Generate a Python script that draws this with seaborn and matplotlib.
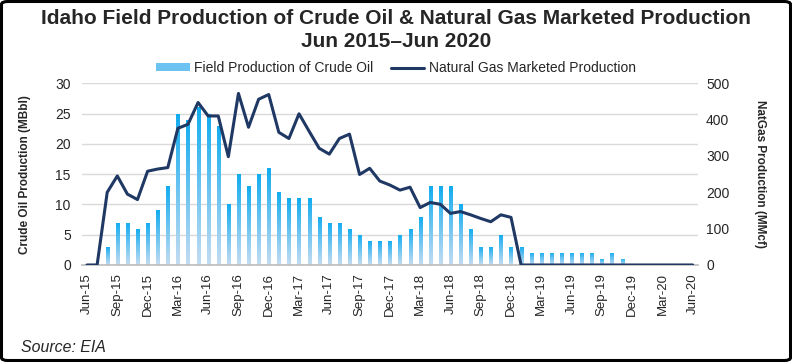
import numpy as np
import pandas as pd
import seaborn as sns
import matplotlib.pyplot as plt
from matplotlib.colors import LinearSegmentedColormap
from matplotlib.patches import Patch, FancyBboxPatch
from matplotlib.lines import Line2D

# monthly data, Jun-15 .. Jun-20
months = pd.date_range('2015-06-01', periods=61, freq='MS').strftime('%b-%y').tolist()

oil = [0, 0, 3, 7, 7, 6, 7, 9, 13, 25, 24, 26, 25, 23, 10, 15, 13, 15, 16, 12,
       11, 11, 11, 8, 7, 7, 6, 5, 4, 4, 4, 5, 6, 8, 13, 13, 13, 10, 6, 3,
       3, 5, 3, 3, 2, 2, 2, 2, 2, 2, 2, 1, 2, 1, 0, 0, 0, 0, 0, 0, 0]

gas = [0, 0, 200, 245, 195, 180, 258, 264, 268, 376, 387, 447, 410, 410, 298, 472,
       379, 456, 469, 365, 348, 416, 368, 321, 305, 348, 360, 249, 266, 231, 220,
       206, 214, 158, 172, 167, 142, 147, 138, 128, 119, 138, 131,
       0, 0, 0, 0, 0, 0, 0, 0, 0, 0, 0, 0, 0, 0, 0, 0, 0, 0]

df = pd.DataFrame({'month': months, 'pos': np.arange(len(months)), 'oil': oil, 'gas': gas})

sns.set_theme(style='white')
plt.rcParams['font.family'] = ['Liberation Sans', 'DejaVu Sans']

navy = '#1F3864'
fig = plt.figure(figsize=(7.92, 3.62), dpi=100)
ax = fig.add_axes([0.1035, 0.268, 0.7775, 0.502])

sns.barplot(data=df, x='month', y='oil', ax=ax, width=0.3, color='#12ACEF', saturation=1)

# gradient fill on each bar (bright at top, pale at bottom)
cmap = LinearSegmentedColormap.from_list('g', ['#C4DCF2', '#12ACEF'])
grad = np.linspace(0, 1, 256).reshape(-1, 1)
for p in list(ax.patches):
    h = p.get_height()
    p.set_linewidth(0)
    if h <= 0:
        continue
    x0, y0, w = p.get_x(), p.get_y(), p.get_width()
    im = ax.imshow(grad, extent=[x0, x0 + w, y0, y0 + h], origin='lower',
                   aspect='auto', cmap=cmap, zorder=2)
    im.set_clip_path(p)
    p.set_facecolor('none')

ax.set_xlim(-0.5, len(months) - 0.5)
ax.set_ylim(0, 30)
ax.set_yticks(range(0, 31, 5))
ax.yaxis.grid(True, color='#D9D9D9', lw=1)
ax.set_axisbelow(True)
ax.set_xticks(range(0, len(months), 3))
ax.set_xticklabels(months[::3], rotation=90)
ax.set_xticks(np.arange(-0.5, len(months), 3), minor=True)
ax.tick_params(axis='x', which='major', length=0, pad=6, labelsize=9.5)
ax.tick_params(axis='x', which='minor', length=5, color='#BFBFBF', width=1)
ax.tick_params(axis='y', length=0, pad=8, labelsize=10)
for s in ['left', 'right', 'top']:
    ax.spines[s].set_visible(False)
ax.spines['bottom'].set_color('#BFBFBF')
ax.set_xlabel('')
ax.set_ylabel('Crude Oil Production (MBbl)', fontsize=8.5, fontweight='bold')
ax.yaxis.set_label_coords(-0.083, 0.5)

ax2 = ax.twinx()
sns.lineplot(data=df, x='pos', y='gas', ax=ax2, color=navy, lw=2.2)
ax2.set_ylim(0, 500)
ax2.set_yticks(range(0, 501, 100))
ax2.tick_params(axis='y', length=0, pad=6, labelsize=10)
for s in ['left', 'right', 'top', 'bottom']:
    ax2.spines[s].set_visible(False)
ax2.grid(False)
ax2.set_ylabel('NatGas Production (MMcf)', fontsize=8.5, fontweight='bold', rotation=-90, va='bottom')
ax2.yaxis.set_label_coords(1.092, 0.5)

fig.text(0.5, 0.950, 'Idaho Field Production of Crude Oil & Natural Gas Marketed Production',
         ha='center', va='center', fontsize=15, fontweight='bold')
fig.text(0.5, 0.884, 'Jun 2015\u2013Jun 2020', ha='center', va='center', fontsize=15, fontweight='bold')

handles = [Patch(facecolor='#6CC2F0', edgecolor='none'), Line2D([], [], color=navy, lw=2.2)]
fig.legend(handles, ['Field Production of Crude Oil', 'Natural Gas Marketed Production'],
           loc='center', bbox_to_anchor=(0.5, 0.812), ncol=2, frameon=False, fontsize=10,
           handlelength=2.4, handleheight=0.5, columnspacing=1.3, handletextpad=0.3)

fig.text(0.0265, 0.041, 'Source: EIA', fontsize=11.4, style='italic', ha='left', va='center')

fig.patches.append(FancyBboxPatch((1.5 / 792, 1.5 / 362), 1 - 3 / 792, 1 - 3 / 362,
                                  boxstyle='round,pad=0,rounding_size=0.008',
                                  transform=fig.transFigure, fill=False, edgecolor='black', lw=2.2))

fig.savefig('out.png', dpi=100)
